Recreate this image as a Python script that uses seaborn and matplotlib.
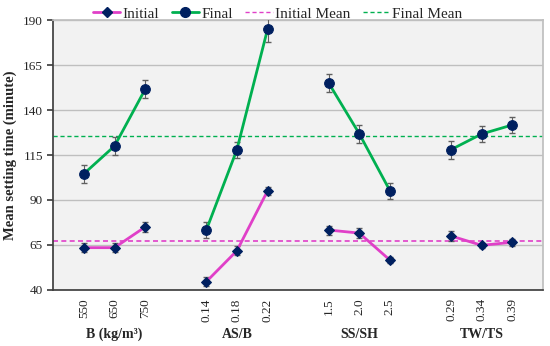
import numpy as np
import pandas as pd
import matplotlib
matplotlib.use("Agg")
import matplotlib.pyplot as plt
from matplotlib.lines import Line2D
import seaborn as sns

# Factors and their levels
factors = ["B (kg/m\u00b3)", "AS/B", "SS/SH", "TW/TS"]
levels = [["550", "650", "750"],
          ["0.14", "0.18", "0.22"],
          ["1.5", "2.0", "2.5"],
          ["0.29", "0.34", "0.39"]]

# Mean setting times (minutes)
initial = [63.5, 63.5, 75, 44.6, 61.8, 95, 73.3, 71.6, 56.6, 70, 64.8, 66.5]
final = [104.6, 120, 151.5, 73.3, 118, 184.8, 155, 126.8, 95.2, 118, 126.7, 131.7]
initial_err = [2.5, 2.5, 3, 2.5, 2.5, 2, 2.5, 3, 1.5, 3, 1.5, 2]
final_err = [5, 5, 5, 4.5, 4.5, 7, 5, 5, 4.5, 5, 4.5, 4.5]
initial_mean = 67.2
final_mean = 125.5

c_init = "#E040C8"
c_final = "#00B050"
c_mark = "#002060"

rows = []
for g, (fac, lv) in enumerate(zip(factors, levels)):
    for j, lab in enumerate(lv):
        k = g * 3 + j
        pos = g * 4 + j + 1
        rows.append(dict(factor=fac, level=lab, pos=pos,
                         Initial=initial[k], Final=final[k],
                         ie=initial_err[k], fe=final_err[k]))
df = pd.DataFrame(rows)

sns.set_theme(style="white")
plt.rcParams["font.family"] = ["Liberation Serif", "DejaVu Serif"]

fig, ax = plt.subplots(figsize=(5.5, 3.46), dpi=100)
fig.subplots_adjust(left=0.097, right=0.987, top=0.942, bottom=0.162)
ax.set_facecolor("#F2F2F2")

for fac in factors:
    sub = df[df["factor"] == fac]
    ax.errorbar(sub["pos"], sub["Final"], yerr=sub["fe"], fmt="none",
                ecolor="#606060", elinewidth=0.8, capsize=2, zorder=3)
    ax.errorbar(sub["pos"], sub["Initial"], yerr=sub["ie"], fmt="none",
                ecolor="#606060", elinewidth=0.8, capsize=2, zorder=3)
    sns.lineplot(data=sub, x="pos", y="Final", ax=ax, color=c_final, lw=2,
                 marker="o", markersize=7, markerfacecolor=c_mark,
                 markeredgecolor=c_mark, zorder=4, legend=False)
    sns.lineplot(data=sub, x="pos", y="Initial", ax=ax, color=c_init, lw=2,
                 marker="D", markersize=5, markerfacecolor=c_mark,
                 markeredgecolor=c_mark, zorder=4, legend=False)

ax.axhline(initial_mean, color=c_init, lw=1.2, ls=(0, (3, 2)), zorder=2)
ax.axhline(final_mean, color=c_final, lw=1, ls=(0, (3, 2)), zorder=2)

ax.set_xlim(0, 16)
ax.set_ylim(40, 190)
ax.set_yticks(np.arange(40, 191, 25))
ax.yaxis.grid(True, color="#BFBFBF", lw=1)
ax.set_axisbelow(True)

# level labels (no tick marks), separators at gaps
ax.set_xticks(df["pos"])
ax.set_xticklabels(df["level"], rotation=90, fontsize=9.5)
ax.tick_params(axis="x", length=0, pad=6)
ax.set_xticks([0, 4, 8, 12, 16], minor=True)
ax.tick_params(axis="x", which="minor", length=4, color="#404040", direction="out")
ax.tick_params(axis="y", length=4, color="#404040", labelsize=9.5, left=True)

for g, fac in enumerate(factors):
    ax.text(g * 4 + 2, -0.165, fac, transform=ax.get_xaxis_transform(),
            ha="center", va="center", fontsize=10, fontweight="bold")

ax.set_xlabel("")
ax.set_ylabel("Mean setting time (minute)", fontsize=10.5, fontweight="bold", labelpad=4)

for side in ["top", "right"]:
    ax.spines[side].set_color("#BFBFBF")
for side in ["left", "bottom"]:
    ax.spines[side].set_color("#404040")

handles = [
    Line2D([], [], color=c_init, lw=2, marker="D", markersize=5,
           markerfacecolor=c_mark, markeredgecolor=c_mark),
    Line2D([], [], color=c_final, lw=2, marker="o", markersize=7,
           markerfacecolor=c_mark, markeredgecolor=c_mark),
    Line2D([], [], color=c_init, lw=1, ls=(0, (3, 2))),
    Line2D([], [], color=c_final, lw=1, ls=(0, (3, 2))),
]
fig.legend(handles, ["Initial", "Final", "Initial Mean", "Final Mean"],
           loc="upper center", bbox_to_anchor=(0.505, 1.02), ncol=4,
           frameon=False, fontsize=11, handlelength=1.8, handletextpad=0.15,
           columnspacing=0.8)

fig.savefig("out.png", dpi=100)
